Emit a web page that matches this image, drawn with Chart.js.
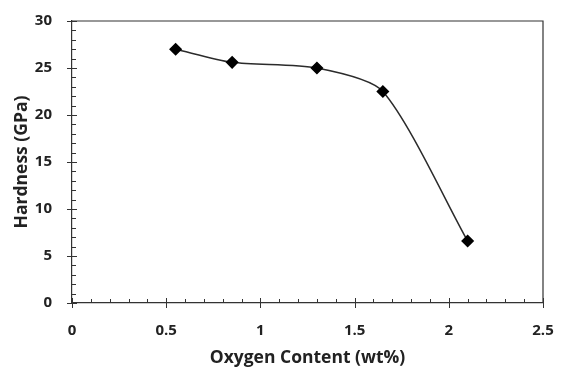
<!DOCTYPE html>
<html>
<head>
<meta charset="utf-8">
<script src="https://cdn.jsdelivr.net/npm/chart.js@4"></script>
<style>
  html, body { margin: 0; padding: 0; background: #fff; }
  #wrap { width: 565px; height: 382px; }
</style>
</head>
<body>
<div id="wrap"><canvas id="hardChart"></canvas></div>
<script>
const oxygen = [0.55, 0.85, 1.3, 1.65, 2.1];
const hardness = [27.0, 25.6, 25.0, 22.5, 6.6];
const xTicks = [0, 0.5, 1, 1.5, 2, 2.5];
const yTicks = [0, 5, 10, 15, 20, 25, 30];

const axisColor = "#333";
const fontFam = "'Open Sans', Lato, sans-serif";

// excel-style ticks: major crossing the axis, minor inside, plus the box frame
const tickPlugin = {
  id: "excelTicks",
  afterDraw(chart) {
    const { ctx, chartArea: a, scales: { x, y } } = chart;
    ctx.save();
    ctx.strokeStyle = axisColor;
    ctx.lineWidth = 1.2;
    ctx.beginPath();
    ctx.moveTo(a.left, a.top);
    ctx.lineTo(a.right, a.top);
    ctx.lineTo(a.right, a.bottom);
    ctx.stroke();
    ctx.lineWidth = 1;
    ctx.beginPath();
    for (let i = 0; i <= 25; i++) {
      const px = Math.round(x.getPixelForValue(i / 10)) + 0.5;
      if (i % 5 === 0) { ctx.moveTo(px, a.bottom - 5); ctx.lineTo(px, a.bottom + 5); }
      else { ctx.moveTo(px, a.bottom - 4); ctx.lineTo(px, a.bottom); }
    }
    for (let i = 0; i <= 30; i++) {
      const py = Math.round(y.getPixelForValue(i)) + 0.5;
      if (i % 5 === 0) { ctx.moveTo(a.left - 5, py); ctx.lineTo(a.left + 5, py); }
      else { ctx.moveTo(a.left, py); ctx.lineTo(a.left + 4, py); }
    }
    ctx.stroke();
    ctx.restore();
  }
};

new Chart(document.getElementById("hardChart"), {
  type: "line",
  data: {
    datasets: [{
      data: oxygen.map((v, i) => ({ x: v, y: hardness[i] })),
      borderColor: "#2b2b2b",
      borderWidth: 1.5,
      tension: 0.25,
      pointStyle: "rectRot",
      pointRadius: 5.5,
      pointBackgroundColor: "#000",
      pointBorderColor: "#000",
      fill: false
    }]
  },
  options: {
    responsive: true,
    maintainAspectRatio: false,
    animation: false,
    layout: { padding: { top: 21, right: 22, left: 0, bottom: 0 } },
    plugins: { legend: { display: false }, tooltip: { enabled: false } },
    scales: {
      x: {
        type: "linear",
        min: 0, max: 2.5,
        afterBuildTicks: s => { s.ticks = xTicks.map(v => ({ value: v })); },
        afterFit: s => { s.height = 79; },
        grid: { display: false },
        border: { display: true, color: axisColor, width: 1.2 },
        ticks: { color: "#222", padding: 11, callback: v => String(v),
                 font: { family: fontFam, size: 15, weight: "bold" } },
        title: { display: true, text: "Oxygen Content (wt%)", color: "#222", padding: { top: 2, bottom: 13 },
                 font: { family: fontFam, size: 17.5, weight: "bold" } }
      },
      y: {
        type: "linear",
        min: 0, max: 30,
        afterBuildTicks: s => { s.ticks = yTicks.map(v => ({ value: v })); },
        afterFit: s => { s.width = 72; },
        grid: { display: false },
        border: { display: true, color: axisColor, width: 1.2 },
        ticks: { color: "#222", padding: 12, callback: v => String(v),
                 font: { family: fontFam, size: 15, weight: "bold" } },
        title: { display: true, text: "Hardness (GPa)", color: "#222", padding: { top: 12, bottom: 0 },
                 font: { family: fontFam, size: 17.5, weight: "bold" } }
      }
    }
  },
  plugins: [tickPlugin]
});
</script>
</body>
</html>
